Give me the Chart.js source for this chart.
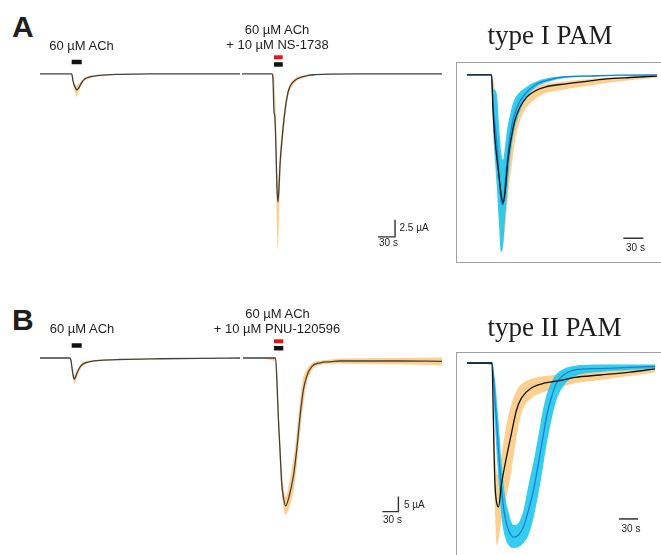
<!DOCTYPE html>
<html>
<head>
<meta charset="utf-8">
<script src="https://cdn.jsdelivr.net/npm/chart.js@4.4.1/dist/chart.umd.min.js"></script>
<style>
  body { margin: 0; background: #fff; }
  #fig { position: relative; width: 661px; height: 555px; overflow: hidden; font-family: "Liberation Sans", Arial, sans-serif; }
  canvas { position: absolute; }
  .t { position: absolute; white-space: nowrap; color: #1e1e1e; }
  .box { position: absolute; border: 1.5px solid #a0a0a0; border-right: none; }
</style>
</head>
<body>
<div id="fig">
  <div class="box" style="left:456px; top:61.5px; width:230px; height:199px;"></div>
  <div class="box" style="left:456px; top:352px; width:230px; height:230px; border-bottom:none;"></div>
  <canvas id="mainA" width="402" height="208" style="left:40px; top:50px;"></canvas>
  <canvas id="mainB" width="402" height="205" style="left:40px; top:335px;"></canvas>
  <canvas id="insetA" width="204" height="200" style="left:457px; top:62px;"></canvas>
  <canvas id="insetB" width="204" height="202" style="left:457px; top:353px;"></canvas>
</div>
<script>
// ---- A: 60 uM ACh alone (time s, current uA) ----
const a1T  = [0, 55, 56.5, 58, 60, 63.5, 65, 67, 70.5, 74, 79, 88, 106, 141, 194, 353];
const a1I  = [0, 0, -0.15, -0.9, -1.6, -2.2, -2.35, -2.2, -1.75, -1.2, -0.75, -0.45, -0.22, -0.07, 0, 0];
const a1Lo = [0, 0, -0.3, -1.0, -2.0, -3.1, -3.4, -2.9, -2.2, -1.5, -1.0, -0.65, -0.35, -0.1, 0, 0];
const a1Hi = [0, 0, -0.05, -0.7, -1.3, -1.6, -1.75, -1.6, -1.3, -0.95, -0.5, -0.28, -0.12, -0.03, 0, 0];

// ---- A: ACh + NS-1738 ----
const a2T  = [356.5, 409.5, 411, 413, 414.5, 416.5, 418, 420, 422, 423.5, 427, 432.5, 437.5, 441, 446.5, 453.5, 462.5, 473, 485, 512, 565, 709.4];
const a2I  = [0, 0, -0.6, -5.6, -6.3, -11.2, -16.3, -18.8, -16.3, -13.4, -9.7, -5.3, -2.8, -1.9, -1.2, -0.75, -0.45, -0.22, -0.12, -0.03, 0, 0];
const a2Lo = [0, 0, -0.9, -2.4, -8.2, -14.9, -22.2, -25.9, -20.7, -16.3, -11.5, -6.5, -3.5, -2.5, -1.6, -1.0, -0.66, -0.37, -0.19, -0.07, 0, 0];
const a2Hi = [0, 0, 0, -0.15, -2.1, -6.8, -12.6, -16.3, -13.4, -11.2, -8.2, -4.3, -2.2, -1.5, -0.88, -0.51, -0.29, -0.15, -0.07, 0, 0, 0];

// ---- B: 60 uM ACh alone ----
const b1T  = [0, 56, 58, 60, 62, 64, 65.5, 69.5, 75, 82.5, 94, 112.5, 150, 225, 300, 375];
const b1I  = [0, 0, -0.7, -3.3, -5.7, -7.0, -6.7, -5.0, -3.0, -1.8, -1.2, -0.8, -0.5, -0.25, -0.1, 0];
const b1Lo = [0, 0, -0.9, -4.5, -6.7, -8.7, -8.3, -6.3, -4.0, -2.3, -1.5, -1.1, -0.7, -0.35, -0.15, 0];
const b1Hi = [0, 0, -0.5, -2.5, -4.7, -5.7, -5.3, -4.0, -2.3, -1.3, -0.85, -0.6, -0.35, -0.15, -0.05, 0];

// ---- B: ACh + PNU-120596 ----
const b2T  = [380.6, 441.6, 444.4, 446.8, 450, 453.2, 456.2, 460.7, 466.9, 474.9, 481.3, 487.5, 493.7, 500, 509.4, 525, 546.9, 562.5, 675, 753.8];
const b2I  = [0, 0, -8.3, -19.6, -30.7, -41.7, -46.2, -49.3, -46.2, -39.6, -30.7, -19.6, -10.7, -6.2, -2.9, -1.6, -1.2, -1.0, -1.0, -1.1];
const b2Lo = [0, -1, -13, -24, -35, -45, -49.5, -52.3, -50, -45, -36.5, -25.5, -15.5, -8.8, -4.2, -2.4, -2.0, -1.9, -2.1, -2.4];
const b2Hi = [0, 0, -4, -15, -26, -37, -42.5, -46.3, -42, -34, -25, -14, -6.5, -3.8, -1.8, -0.9, -0.5, -0.2, 0, 0.2];

// drug application bars [start s, end s]
const achBarA = [55.9, 73.6];
const pamBarA = [412.9, 428.3];
const achBarB = [59.4, 78.2];
const pamBarB = [438.8, 456.2];

// ---- type I PAM inset (normalised current) ----
const iaKT  = [0, 36.75, 39, 40.5, 43.5, 48, 51, 54, 57, 61.5, 66.75, 72, 79.5, 90, 102, 117, 139.5, 159, 184.5, 210, 244.5, 285];
const iaK   = [0, 0, -0.194, -0.289, -0.417, -0.561, -0.656, -0.711, -0.656, -0.472, -0.344, -0.25, -0.178, -0.122, -0.089, -0.067, -0.053, -0.044, -0.033, -0.022, -0.014, -0.006];
const iaOT  = [36.75, 39, 42, 45, 48, 51, 52.5, 55.5, 58.5, 63, 67.5, 72, 79.5, 90, 102, 117, 139.5, 159, 184.5, 210, 244.5, 285];
const iaOLo = [0, -0.111, -0.361, -0.556, -0.722, -0.889, -0.944, -0.917, -0.8, -0.62, -0.49, -0.37, -0.255, -0.178, -0.135, -0.102, -0.085, -0.072, -0.058, -0.044, -0.03, -0.016];
const iaOHi = [0, -0.017, -0.083, -0.194, -0.333, -0.472, -0.528, -0.528, -0.417, -0.306, -0.222, -0.167, -0.122, -0.089, -0.067, -0.05, -0.039, -0.031, -0.022, -0.014, -0.008, -0.003];
const iaCT  = [0, 36.75, 39, 42, 45, 48, 51, 54, 57, 60, 64.5, 69, 76.5, 87, 102, 121.5, 147, 184.5, 229.5, 285];
const iaC   = [0, 0, -0.167, -0.278, -0.389, -0.556, -0.694, -0.722, -0.611, -0.483, -0.344, -0.25, -0.167, -0.106, -0.056, -0.028, -0.011, -0.006, -0.001, 0];
const iaCLo = [0, 0, -0.289, -0.472, -0.639, -0.833, -0.983, -0.956, -0.806, -0.667, -0.472, -0.344, -0.233, -0.139, -0.072, -0.039, -0.017, -0.008, -0.003, 0];
const iaCHi = [0, 0, -0.072, -0.083, -0.111, -0.278, -0.417, -0.472, -0.4, -0.306, -0.222, -0.156, -0.106, -0.072, -0.039, -0.017, -0.006, -0.003, 0, 0];

// ---- type II PAM inset ----
const ibKT  = [0, 39.5, 41.05, 42.6, 44.2, 46.6, 49.7, 54.5, 62.4, 70.3, 78.2, 86.1, 101.8, 123.2, 143.7, 170.5, 210, 257.4, 296.9];
const ibK   = [0, 0, -0.2, -0.47, -0.659, -0.751, -0.778, -0.654, -0.508, -0.378, -0.254, -0.189, -0.135, -0.108, -0.097, -0.078, -0.065, -0.049, -0.032];
const ibOT  = [39.5, 41.05, 42.6, 44.2, 46.6, 49.7, 54.5, 62.4, 70.3, 78.2, 86.1, 101.8, 123.2, 143.7, 170.5, 210, 257.4, 296.9];
const ibOLo = [0, -0.308, -0.578, -0.795, -0.984, -0.957, -0.849, -0.72, -0.58, -0.4, -0.27, -0.19, -0.155, -0.135, -0.11, -0.092, -0.07, -0.052];
const ibOHi = [0, -0.092, -0.308, -0.47, -0.578, -0.605, -0.497, -0.33, -0.22, -0.15, -0.115, -0.085, -0.07, -0.062, -0.048, -0.038, -0.026, -0.014];
const ibCT  = [0, 39.5, 44.2, 49.7, 54.5, 60, 65.5, 73.4, 81.3, 89.2, 97.1, 105, 112.9, 119.2, 125.5, 133.4, 141.3, 152.4, 168.2, 210, 257.4, 296.9];
const ibC   = [0, 0, -0.2, -0.47, -0.686, -0.832, -0.903, -0.941, -0.93, -0.886, -0.795, -0.686, -0.541, -0.416, -0.292, -0.184, -0.108, -0.065, -0.038, -0.03, -0.024, -0.019];
const ibCLo = [0, -0.011, -0.335, -0.632, -0.832, -0.941, -0.984, -1.0, -0.995, -0.973, -0.93, -0.838, -0.703, -0.578, -0.443, -0.308, -0.2, -0.124, -0.076, -0.049, -0.038, -0.03];
const ibCHi = [0, 0, -0.092, -0.308, -0.535, -0.714, -0.805, -0.876, -0.865, -0.795, -0.659, -0.535, -0.389, -0.265, -0.173, -0.103, -0.059, -0.032, -0.016, -0.008, -0.008, -0.008];

const ORANGE = 'rgba(253,200,125,0.85)';
const CYAN = 'rgba(35,200,238,0.92)';
const BLUE = '#1a7fd6';
const TRACE = '#404040';

const pts = (t, v) => t.map((x, i) => ({ x: x, y: v[i] }));

function line(t, v, color, width, order) {
  return { data: pts(t, v), borderColor: color, borderWidth: width, pointRadius: 0,
           fill: false, order: order, cubicInterpolationMode: 'monotone' };
}
function band(t, lo, hi, color, order) {
  return [
    { data: pts(t, lo), borderColor: 'transparent', borderWidth: 0, pointRadius: 0,
      fill: false, order: order, cubicInterpolationMode: 'monotone' },
    { data: pts(t, hi), borderColor: 'transparent', borderWidth: 0, pointRadius: 0,
      fill: '-1', backgroundColor: color, order: order, cubicInterpolationMode: 'monotone' }
  ];
}
function straight(t, v, color, width) {
  return { data: pts(t, v), borderColor: color, borderWidth: width, pointRadius: 0,
           fill: false, order: 0, tension: 0, borderCapStyle: 'butt' };
}

function draw(id, xr, yr, datasets) {
  new Chart(document.getElementById(id), {
    type: 'line',
    data: { datasets: datasets },
    options: {
      responsive: false,
      animation: false,
      events: [],
      layout: { padding: 0 },
      scales: {
        x: { type: 'linear', min: xr[0], max: xr[1], display: false },
        y: { type: 'linear', min: yr[0], max: yr[1], display: false }
      },
      plugins: { legend: { display: false }, tooltip: { enabled: false } }
    }
  });
}

// panel A traces
draw('mainA', [0, 709.4], [-27, 3.5], [
  line(a1T, a1I, TRACE, 1.3, 0),
  line(a2T, a2I, TRACE, 1.3, 0),
  ...band(a1T, a1Lo, a1Hi, ORANGE, 3),
  ...band(a2T, a2Lo, a2Hi, ORANGE, 3),
  straight(achBarA, [1.74, 1.74], '#111', 4.5),
  straight(pamBarA, [2.43, 2.43], '#e8121b', 4),
  straight(pamBarA, [1.38, 1.38], '#111', 4.5),
  straight([596.5, 626.5, 626.5], [-23.9, -23.9, -21.4], '#333', 1.4)
]);

// panel B traces
draw('mainB', [0, 753.75], [-60.67, 7.67], [
  line(b1T, b1I, TRACE, 1.3, 0),
  line(b2T, b2I, TRACE, 1.3, 0),
  ...band(b1T, b1Lo, b1Hi, ORANGE, 3),
  ...band(b2T, b2Lo, b2Hi, ORANGE, 3),
  straight(achBarB, [4.17, 4.17], '#111', 4.5),
  straight(pamBarB, [5.57, 5.57], '#e8121b', 4),
  straight(pamBarB, [3.27, 3.27], '#111', 4.5),
  straight([642, 672, 672], [-51.2, -51.2, -46.2], '#333', 1.4)
]);

// type I PAM overlay
draw('insetA', [-15, 291], [-1.039, 0.072], [
  line(iaKT, iaK, '#111', 1.3, 0),
  line(iaCT, iaC, BLUE, 1.3, 1),
  ...band(iaCT, iaCLo, iaCHi, CYAN, 2),
  ...band(iaOT, iaOLo, iaOHi, ORANGE, 3),
  straight([234.5, 264.5], [-0.907, -0.907], '#333', 1.5)
]);

// type II PAM overlay
draw('insetB', [-15.8, 306.3], [-1.038, 0.054], [
  line(ibKT, ibK, '#111', 1.3, 0),
  line(ibCT, ibC, BLUE, 1.3, 1),
  ...band(ibCT, ibCLo, ibCHi, CYAN, 2),
  ...band(ibOT, ibOLo, ibOHi, ORANGE, 3),
  straight([240, 270], [-0.843, -0.843], '#333', 1.5)
]);

// text, placed by baseline
const fig = document.getElementById('fig');
function txt(s, x, base, size, opt) {
  opt = opt || {};
  const serif = !!opt.serif;
  const d = document.createElement('div');
  d.className = 't';
  d.textContent = s;
  d.style.fontSize = size + 'px';
  d.style.lineHeight = size + 'px';
  if (serif) d.style.fontFamily = '"Liberation Serif", "Times New Roman", serif';
  if (opt.bold) d.style.fontWeight = 'bold';
  d.style.top = (base - size * (serif ? 0.8375 : 0.8465)) + 'px';
  d.style.left = x + 'px';
  if (opt.center) d.style.transform = 'translateX(-50%)';
  fig.appendChild(d);
}
txt('A', 12, 37, 30, { bold: true });
txt('B', 12, 330, 30, { bold: true });
txt('60 µM ACh', 81.5, 50, 13, { center: true });
txt('60 µM ACh', 277, 34, 13, { center: true });
txt('+ 10 µM NS-1738', 277.5, 49, 13, { center: true });
txt('60 µM ACh', 82, 333, 13, { center: true });
txt('60 µM ACh', 277.5, 318, 13, { center: true });
txt('+ 10 µM PNU-120596', 277, 333, 13, { center: true });
txt('2.5 µA', 399.5, 231, 10);
txt('30 s', 379, 246.5, 10);
txt('5 µA', 404, 508, 10);
txt('30 s', 383, 523, 10);
txt('type I PAM', 550, 44.5, 27, { serif: true, center: true });
txt('type II PAM', 554.5, 337, 27, { serif: true, center: true });
txt('30 s', 635.5, 251, 10, { center: true });
txt('30 s', 631, 532, 10, { center: true });
</script>
</body>
</html>
